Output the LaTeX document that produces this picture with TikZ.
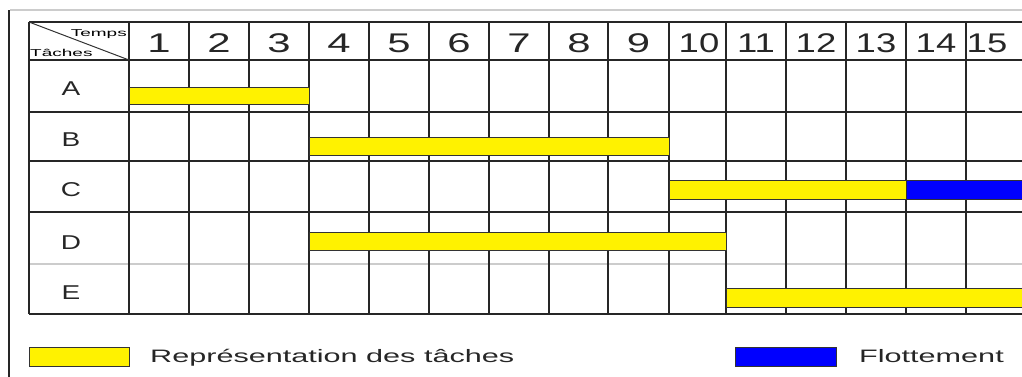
\documentclass[tikz,border=0pt]{standalone}
\usepackage{fontspec}
\setmainfont{Liberation Sans}
\newfontfamily\numfont[FakeStretch=1.55]{Liberation Sans}
\newfontfamily\numfontb[FakeStretch=1.35]{Liberation Sans}
\newfontfamily\labfont[FakeStretch=1.4]{Liberation Sans}
\newfontfamily\legfont[FakeStretch=1.7]{Liberation Sans}
\newfontfamily\tinyfont[FakeStretch=1.9]{Liberation Sans}
\begin{document}
\begin{tikzpicture}[x=1pt,y=-1pt,
  gridline/.style={line width=1.3pt,black!85},
  softline/.style={line width=1.1pt,black!20},
  num/.style={anchor=base,inner sep=0pt,font=\numfont\fontsize{27}{27}\selectfont,text=black!85},
  numb/.style={anchor=base,inner sep=0pt,font=\numfontb\fontsize{27}{27}\selectfont,text=black!85},
  lab/.style={anchor=base,inner sep=0pt,font=\labfont\fontsize{20}{20}\selectfont,text=black!85},
  tiny/.style={inner sep=0pt,font=\tinyfont\fontsize{10}{10}\selectfont},
  legtext/.style={anchor=base west,inner sep=0pt,font=\legfont\fontsize{18}{18}\selectfont,text=black!85},
  taskbar/.style={fill=yellow,draw=black!80,line width=0.8pt},
  floatbar/.style={fill=blue,draw=black!80,line width=0.8pt}]
\useasboundingbox (0,0) rectangle (1022,376);
\clip (0,0) rectangle (1022,376);
% outer frame
\draw[line width=2pt,black!85] (9,10) -- (9,380);
\draw[line width=1.2pt,black!20] (10,10) -- (1030,10);
% column boundaries
\def\colx{129,189,249,309,369,429,489,549,608,669,726,786,846,906,966,1026}
% horizontal lines
\foreach \yy in {22,60,112,161,212,314}
  \draw[gridline] (29,\yy) -- (1030,\yy);
\draw[softline] (29,264) -- (1030,264);
% vertical lines
\draw[gridline] (29,22) -- (29,314);
\foreach \xx in \colx
  \draw[gridline] (\xx,22) -- (\xx,314);
% diagonal header
\coordinate (hTL) at (29,22);
\coordinate (hBR) at (129,60);
\draw[line width=1pt,black!80] (hTL) -- (hBR);
\node[tiny,anchor=base east] (temps) at (127,36) {Temps};
\node[tiny,anchor=base west] (taches) at (30,56) {Tâches};
% time numbers
\foreach \i/\cx in {1/159,2/219,3/279,4/339,5/399,6/459,7/519,8/579,9/638.5}
  \node[num] (t\i) at (\cx,52) {\i};
\foreach \i/\cx in {10/699,11/756,12/816,13/876,14/936,15/987}
  \node[numb] (t\i) at (\cx,52) {\i};
% task labels
\node[lab] (rA) at (71,95) {A};
\node[lab] (rB) at (71,146) {B};
\node[lab] (rC) at (71,196) {C};
\node[lab] (rD) at (71,249) {D};
\node[lab] (rE) at (71,299) {E};
% bars
\draw[taskbar] (129,87) rectangle (309,104);
\draw[taskbar] (309,137) rectangle (669,155);
\draw[taskbar] (669,180) rectangle (906,199);
\draw[floatbar] (906,180) rectangle (1030,199);
\draw[taskbar] (309,232) rectangle (726,250);
\draw[taskbar] (726,288) rectangle (1030,307);
% legend
\draw[taskbar] (29,347) rectangle (129,366);
\node[legtext] (legA) at (150,362) {Représentation des tâches};
\draw[floatbar] (735,347) rectangle (836,366);
\node[legtext] (legB) at (859,362) {Flottement};
\end{tikzpicture}
\end{document}
